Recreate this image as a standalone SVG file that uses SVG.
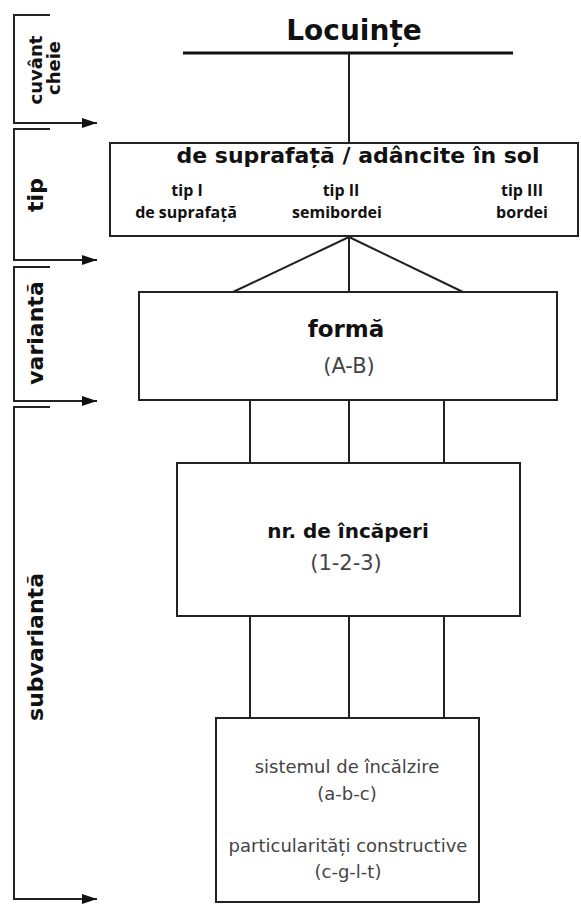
<svg xmlns="http://www.w3.org/2000/svg" width="581" height="904" viewBox="0 0 581 904">
<style>
  .b { font-family: "DejaVu Sans", "Liberation Sans", sans-serif; font-weight: bold; fill: #111; }
  .o { font-family: "Open Sans", "DejaVu Sans", sans-serif; font-weight: bold; fill: #111; }
  .r { font-family: "DejaVu Sans", "Liberation Sans", sans-serif; fill: #444; }
  .mid { text-anchor: middle; }
  .brk { fill: none; stroke: #222; stroke-width: 2; }
  .box { fill: #fff; stroke: #222; stroke-width: 2; }
  .conn { fill: none; stroke: #222; stroke-width: 2; }
</style>
<defs>
  <marker id="arr" markerUnits="userSpaceOnUse" markerWidth="16" markerHeight="12" refX="15" refY="5" orient="auto">
    <path d="M0,0 L15,5 L0,10 z" fill="#111"/>
  </marker>
</defs>
<rect width="581" height="904" fill="#fff"/>

<g id="levels">
  <path class="brk" d="M50,15 H14 V123 H97" marker-end="url(#arr)"/>
  <path class="brk" d="M50,129 H14 V260 H97" marker-end="url(#arr)"/>
  <path class="brk" d="M50,267 H14 V401 H97" marker-end="url(#arr)"/>
  <path class="brk" d="M50,407 H14 V899 H97" marker-end="url(#arr)"/>
  <text class="b mid" font-size="18" transform="translate(42,70) rotate(-90)">cuvânt</text>
  <text class="b mid" font-size="18" transform="translate(60,68) rotate(-90)">cheie</text>
  <text class="b mid" font-size="22" transform="translate(43,195) rotate(-90)">tip</text>
  <text class="b mid" font-size="22" transform="translate(43,333) rotate(-90)">variantă</text>
  <text class="b mid" font-size="22" transform="translate(43,647) rotate(-90)">subvariantă</text>
</g>

<g id="connectors">
  <line x1="183" y1="53" x2="513" y2="53" stroke="#111" stroke-width="3"/>
  <line class="conn" x1="349" y1="53" x2="349" y2="143"/>
  <line class="conn" x1="349" y1="237" x2="233" y2="292"/>
  <line class="conn" x1="349" y1="237" x2="349" y2="292"/>
  <line class="conn" x1="349" y1="237" x2="463" y2="292"/>
  <line class="conn" x1="250" y1="400" x2="250" y2="463" stroke="#333"/>
  <line class="conn" x1="349" y1="400" x2="349" y2="463" stroke="#333"/>
  <line class="conn" x1="444" y1="400" x2="444" y2="463" stroke="#333"/>
  <line class="conn" x1="250" y1="616" x2="250" y2="718" stroke="#333"/>
  <line class="conn" x1="349" y1="616" x2="349" y2="718" stroke="#333"/>
  <line class="conn" x1="444" y1="616" x2="444" y2="718" stroke="#333"/>
</g>

<g id="node-locuinte">
  <text class="b mid" x="354" y="40" font-size="28">Locuințe</text>
</g>

<g id="node-tip">
  <rect class="box" x="110" y="143" width="468" height="93"/>
  <text class="b mid" x="358" y="163" font-size="22">de suprafață / adâncite în sol</text>
  <text class="o mid" x="187" y="196" font-size="16">tip I</text>
  <text class="o mid" x="341" y="196" font-size="16">tip II</text>
  <text class="o mid" x="522" y="196" font-size="16">tip III</text>
  <text class="o mid" x="186" y="218" font-size="16">de suprafață</text>
  <text class="o mid" x="337" y="218" font-size="16">semibordei</text>
  <text class="o mid" x="522" y="218" font-size="16">bordei</text>
</g>

<g id="node-forma">
  <rect class="box" x="139" y="292" width="418" height="108"/>
  <text class="b mid" x="346" y="337" font-size="23">formă</text>
  <text class="r mid" x="349" y="373" font-size="21">(A-B)</text>
</g>

<g id="node-incaperi">
  <rect class="box" x="177" y="463" width="343" height="153" stroke="#555"/>
  <text class="b mid" x="348" y="538" font-size="20" fill="#222">nr. de încăperi</text>
  <text class="r mid" x="346" y="570" font-size="21">(1-2-3)</text>
</g>

<g id="node-sistem">
  <rect class="box" x="216" y="718" width="263" height="184" stroke="#777"/>
  <text class="r mid" x="347" y="773" font-size="18">sistemul de încălzire</text>
  <text class="r mid" x="347" y="800" font-size="18">(a-b-c)</text>
  <text class="r mid" x="348" y="852" font-size="18">particularități constructive</text>
  <text class="r mid" x="348" y="878" font-size="18">(c-g-l-t)</text>
</g>
</svg>
